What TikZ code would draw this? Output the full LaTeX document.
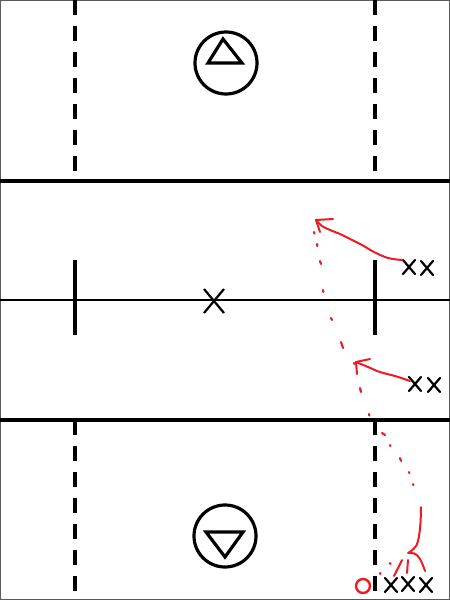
\documentclass[tikz,border=0pt]{standalone}
\definecolor{pen}{RGB}{237,28,36}
\tikzset{
  field/.style={line width=3.5pt},
  midline/.style={line width=2.2pt},
  dashline/.style={line width=3.5pt, dash pattern=on 15pt off 11pt},
  goalring/.style={line width=3.2pt},
  redpen/.style={pen, line width=2pt, line cap=round, line join=round},
  reddot/.style={pen, line width=2.2pt, line cap=round},
  plx/.pic={\draw[line width=2.2pt, line cap=round] (-6,-7)--(6,7) (-6,7)--(6,-7);},
  bigx/.pic={\draw[line width=2.2pt] (-10,-12)--(10,12) (-10,12)--(10,-12);}
}
\begin{document}
\begin{tikzpicture}[x=1pt,y=-1pt]
\useasboundingbox (0,0) rectangle (450,600);
\fill[white] (0,0) rectangle (450,600);
% border
\draw[gray!70!black, line width=1pt] (0.5,0.5) rectangle (449.5,599.5);
% horizontal lines
\draw[field] (0,181) -- (450,181);
\draw[field] (0,420) -- (450,420);
\draw[midline] (0,300) -- (450,300);
% dashed lines
\draw[dashline] (75,0) -- (75,181);
\draw[dashline] (375,0) -- (375,181);
\draw[dashline] (75,420) -- (75,600);
\draw[dashline] (375,420) -- (375,600);
% midfield wing lines
\draw[field] (75,260) -- (75,335);
\draw[field] (375,260) -- (375,335);
% faceoff X
\pic at (214,301) {bigx};
% goals
\node[draw, circle, goalring, minimum size=62pt, inner sep=0pt] (topgoal) at (226,63) {};
\draw[line width=3.2pt, line join=miter] (223,39) -- (242,63) -- (208,63) -- cycle;
\node[draw, circle, goalring, minimum size=62pt, inner sep=0pt] (botgoal) at (225,536) {};
\draw[line width=3.2pt, line join=miter] (206,532) -- (243,532) -- (225,557) -- cycle;
% players
\pic at (409,267) {plx};
\pic at (427,268) {plx};
\pic at (415,384) {plx};
\pic at (434,385) {plx};
\pic at (391,585) {plx};
\pic at (408,584) {plx};
\pic at (426,585) {plx};
% red: upper arrow
\coordinate (a1s) at (402,260);
\coordinate (a1t) at (316,220);
\draw[redpen] plot[smooth, tension=0.6] coordinates {(402,260) (388,258) (374,252) (362,245) (350,239) (340,234) (330,230) (322,226) (316,220)};
\draw[redpen] (a1t) -- (333,219);
\draw[redpen] (a1t) -- (320,232);
% red: lower arrow
\coordinate (a2s) at (410,381);
\coordinate (a2t) at (356,362);
\draw[redpen] plot[smooth, tension=0.6] coordinates {(410,381) (395,376) (380,372) (368,367) (356,362)};
\draw[redpen] (a2t) -- (370,359);
\draw[redpen] (a2t) -- (357,374);
% red dotted trail
\draw[reddot] (314,232) -- (314.3,233.5);
\draw[reddot] (317,244) -- (317.4,246);
\draw[reddot] (320,261) -- (321,264);
\draw[reddot] (323,290) -- (323.3,292);
\draw[reddot] (331,318) -- (332,320);
\draw[reddot] (341,342) -- (343,348);
\draw[reddot] (354,363) -- (354.5,364);
\draw[reddot] (360,388) -- (361,392);
\draw[reddot] (369,414) -- (369.3,415.5);
% bottom right trail
\draw[reddot] (382,433) -- (385,435);
\draw[reddot] (390,445) -- (390.3,446);
\draw[reddot] (400,458) -- (401,461);
\draw[reddot] (409,472) -- (409.3,473);
\draw[reddot] (413,484) -- (413.3,485);
\draw[redpen] (421,507) .. controls (421,525) and (419,542) .. (416,546) .. controls (413,550) and (410,552) .. (408,553);
\draw[redpen] (409,553) .. controls (416,552) and (420,556) .. (425,571);
\draw[redpen] (402,560) -- (394,576);
\draw[redpen] (408,560) -- (407,573);
\draw[reddot] (390,563) -- (390.5,564);
\draw[reddot] (380,573) -- (380.5,574);
\node[draw=pen, circle, line width=2.4pt, minimum size=14pt, inner sep=0pt] (ball) at (363,586) {};
\end{tikzpicture}
\end{document}
